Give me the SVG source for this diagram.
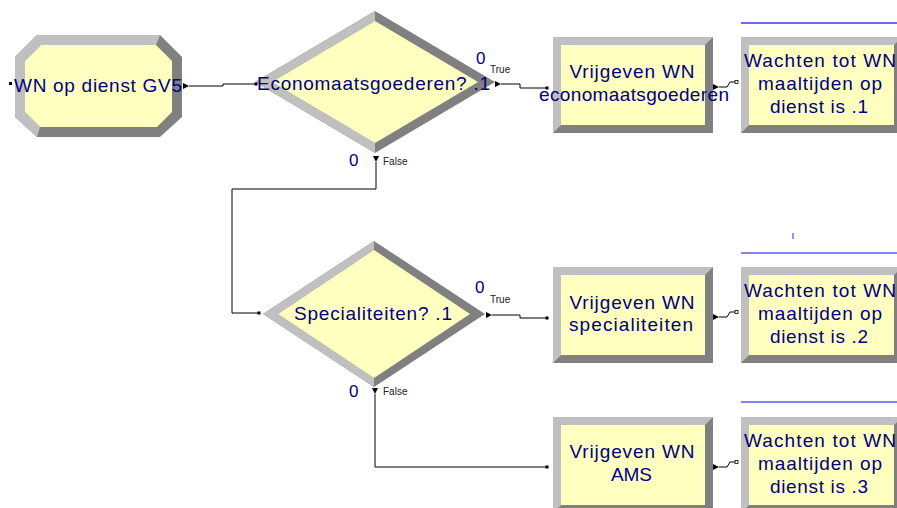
<svg xmlns="http://www.w3.org/2000/svg" width="897" height="508" viewBox="0 0 897 508">
  <style>
    .dark { fill: #808080; }
    .light { fill: #c0c0c0; }
    .face { fill: #ffffc0; }
    .lbl { font-family: "Liberation Sans", Arial, sans-serif; font-size: 19px; fill: #000080; text-anchor: middle; }
    .cnt { font-family: "Liberation Sans", Arial, sans-serif; font-size: 17px; fill: #000080; }
    .tag { font-family: "Liberation Sans", Arial, sans-serif; font-size: 10px; fill: #202020; }
    .wire { fill: none; stroke: #000; stroke-width: 1; }
    .head { fill: #000; }
    .dot { fill: #000; }
    .port { fill: #fff; stroke: #000; stroke-width: 0.8; }
    .note { stroke-width: 1.3; fill: none; }
  </style>

  <rect width="897" height="508" fill="#ffffff"/>

  <!-- Create module -->
  <g id="wn-op-dienst-gv5">
    <polygon class="dark" points="37,35 160,35 182,57 182,117 160,137 37,137 15,117 15,57"/>
    <polygon class="light" points="37,137 15,117 15,57 37,35 160,35 156,45 41,45 25,61 25,112 40,127"/>
    <polygon class="face" points="41,45 156,45 172,61 172,112 157,127 40,127 25,112 25,61"/>
    <rect class="dot" x="9" y="82" width="3" height="3"/>
    <text class="lbl" x="98" y="92" textLength="168" lengthAdjust="spacing">WN op dienst GV5</text>
  </g>

  <!-- Decide: Economaatsgoederen -->
  <g id="economaatsgoederen">
    <polygon class="dark" points="375,11 495,82 375,153 255,82"/>
    <polygon class="light" points="375,153 255,82 375,11 375,21 272,82 375,143"/>
    <polygon class="face" points="375,21 478,82 375,143 272,82"/>
    <text class="lbl" x="373.5" y="90" textLength="233" lengthAdjust="spacing">Economaatsgoederen? .1</text>
    <text class="cnt" x="476" y="64">0</text>
    <text class="tag" x="490" y="73">True</text>
    <text class="cnt" x="349" y="166">0</text>
    <text class="tag" x="383" y="165">False</text>
  </g>

  <!-- Decide: Specialiteiten -->
  <g id="specialiteiten">
    <polygon class="dark" points="374,241 485,314 374,387 263,314"/>
    <polygon class="light" points="374,387 263,314 374,241 374,250 278,314 374,378"/>
    <polygon class="face" points="374,250 470,314 374,378 278,314"/>
    <text class="lbl" x="373" y="320" textLength="158" lengthAdjust="spacing">Specialiteiten? .1</text>
    <text class="cnt" x="475" y="293">0</text>
    <text class="tag" x="490" y="303">True</text>
    <text class="cnt" x="349" y="397">0</text>
    <text class="tag" x="383" y="395">False</text>
  </g>

  <!-- Release modules -->
  <g id="vrijgeven-economaatsgoederen">
    <rect class="dark" x="553" y="37" width="160" height="96"/>
    <polygon class="light" points="553,133 553,37 713,37 705,45 561,45 561,125"/>
    <rect class="face" x="561" y="45" width="144" height="80"/>
    <text class="lbl" x="632" y="78" textLength="125" lengthAdjust="spacing">Vrijgeven WN</text>
    <text class="lbl" x="634" y="101" textLength="190" lengthAdjust="spacing">economaatsgoederen</text>
  </g>

  <g id="vrijgeven-specialiteiten">
    <rect class="dark" x="553" y="267" width="160" height="96"/>
    <polygon class="light" points="553,363 553,267 713,267 705,275 561,275 561,355"/>
    <rect class="face" x="561" y="275" width="144" height="80"/>
    <text class="lbl" x="632" y="309" textLength="125" lengthAdjust="spacing">Vrijgeven WN</text>
    <text class="lbl" x="631" y="331" textLength="124" lengthAdjust="spacing">specialiteiten</text>
  </g>

  <g id="vrijgeven-ams">
    <rect class="dark" x="553" y="417" width="160" height="96"/>
    <polygon class="light" points="553,513 553,417 713,417 705,425 561,425 561,505"/>
    <rect class="face" x="561" y="425" width="144" height="80"/>
    <text class="lbl" x="632" y="458" textLength="125" lengthAdjust="spacing">Vrijgeven WN</text>
    <text class="lbl" x="631.5" y="481" textLength="41" lengthAdjust="spacing">AMS</text>
  </g>

  <!-- Hold modules -->
  <g id="wachten-1">
    <line class="note" x1="741" y1="23" x2="897" y2="23" stroke="#3a3ae6"/>
    <rect class="dark" x="741" y="37" width="161" height="96"/>
    <polygon class="light" points="741,133 741,37 902,37 894,45 749,45 749,125"/>
    <rect class="face" x="749" y="45" width="145" height="80"/>
    <text class="lbl" x="820" y="67" textLength="152" lengthAdjust="spacing">Wachten tot WN</text>
    <text class="lbl" x="820" y="90" textLength="124" lengthAdjust="spacing">maaltijden op</text>
    <text class="lbl" x="819" y="113" textLength="98" lengthAdjust="spacing">dienst is .1</text>
  </g>

  <g id="wachten-2">
    <line class="note" x1="793" y1="233" x2="793" y2="239" stroke="#5a5aff"/>
    <line class="note" x1="741" y1="253" x2="897" y2="253" stroke="#5a5aff"/>
    <rect class="dark" x="741" y="267" width="161" height="96"/>
    <polygon class="light" points="741,363 741,267 902,267 894,275 749,275 749,355"/>
    <rect class="face" x="749" y="275" width="145" height="80"/>
    <text class="lbl" x="820" y="297" textLength="152" lengthAdjust="spacing">Wachten tot WN</text>
    <text class="lbl" x="820" y="320" textLength="124" lengthAdjust="spacing">maaltijden op</text>
    <text class="lbl" x="819" y="343" textLength="98" lengthAdjust="spacing">dienst is .2</text>
  </g>

  <g id="wachten-3">
    <line class="note" x1="741" y1="402" x2="897" y2="402" stroke="#5a5aff"/>
    <rect class="dark" x="741" y="417" width="161" height="96"/>
    <polygon class="light" points="741,513 741,417 902,417 894,425 749,425 749,505"/>
    <rect class="face" x="749" y="425" width="145" height="80"/>
    <text class="lbl" x="820" y="447" textLength="152" lengthAdjust="spacing">Wachten tot WN</text>
    <text class="lbl" x="820" y="470" textLength="124" lengthAdjust="spacing">maaltijden op</text>
    <text class="lbl" x="819" y="493" textLength="98" lengthAdjust="spacing">dienst is .3</text>
  </g>

  <!-- Connections -->
  <g id="connectors">
    <polygon class="head" points="183,83 189,86 183,89"/>
    <path class="wire" d="M189,86 H223 V84 H255"/>
    <rect class="dot" x="254.5" y="82.5" width="3" height="3"/>

    <polygon class="head" points="495,81 501,84 495,87"/>
    <path class="wire" d="M501,84 H520 V88 H546"/>
    <rect class="dot" x="545.5" y="86.5" width="3" height="3"/>

    <polygon class="head" points="373,156 379,156 376,162"/>
    <path class="wire" d="M376,162 V189 H232 V313 H258"/>
    <rect class="dot" x="257.5" y="311.5" width="3" height="3"/>

    <polygon class="head" points="486,312 492,315 486,318"/>
    <path class="wire" d="M492,315 H520 V318 H546"/>
    <rect class="dot" x="545.5" y="316.5" width="3" height="3"/>

    <polygon class="head" points="372,388 378,388 375,394"/>
    <path class="wire" d="M375,394 V467 H546"/>
    <rect class="dot" x="545.5" y="465.5" width="3" height="3"/>

    <polygon class="head" points="713,84 719,87 713,90"/>
    <path class="wire" d="M719,87 H727 L730,82 H735"/>
    <rect class="port" x="735" y="80.5" width="3" height="3"/>

    <polygon class="head" points="713,314 719,317 713,320"/>
    <path class="wire" d="M719,317 H727 L730,312 H735"/>
    <rect class="port" x="735" y="310.5" width="3" height="3"/>

    <polygon class="head" points="713,464 719,467 713,470"/>
    <path class="wire" d="M719,467 H727 L730,462 H735"/>
    <rect class="port" x="735" y="460.5" width="3" height="3"/>
  </g>
</svg>
